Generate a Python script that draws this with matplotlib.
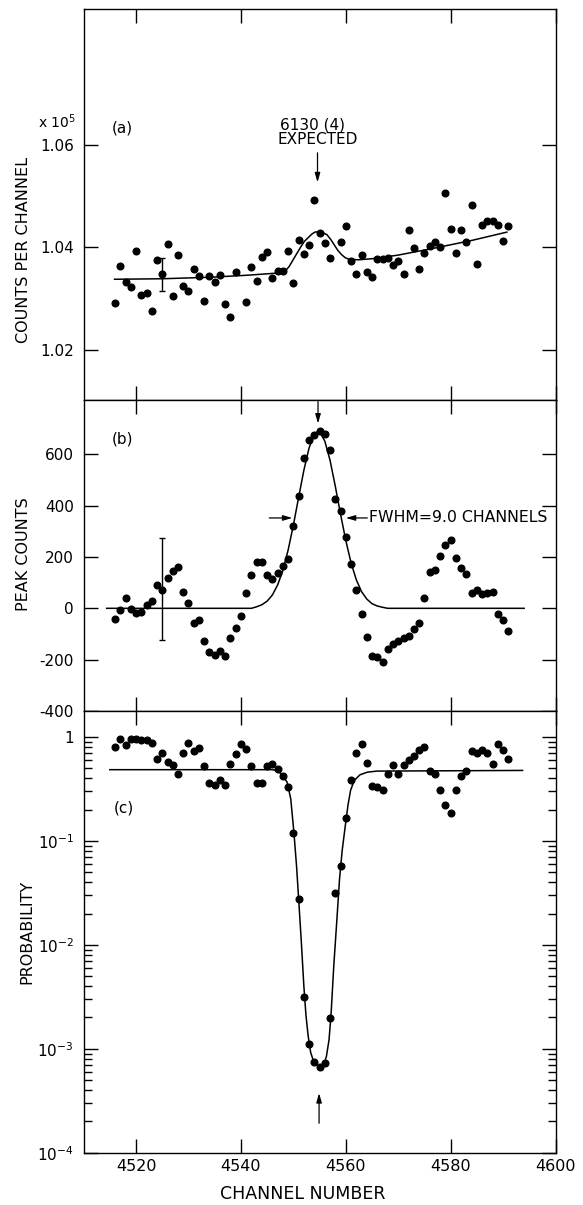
import matplotlib
matplotlib.use('Agg')
import matplotlib.pyplot as plt
from matplotlib.ticker import FixedLocator, FixedFormatter, NullFormatter, LogLocator

plt.rcParams['font.family'] = ['DejaVu Sans']
plt.rcParams['axes.unicode_minus'] = False
plt.rcParams['mathtext.default'] = 'regular'

# ---------------- data ----------------
CHANNELS = list(range(4516, 4592))
MISSING_A = (4540, 4558)
CH_A = [c for c in CHANNELS if c not in MISSING_A]

# (a) counts per channel (x 10^5)
COUNTS_A = [1.0292, 1.0363, 1.0333, 1.0322, 1.0394, 1.0307, 1.0312, 1.0276, 1.0375, 1.0348,
            1.0406, 1.0305, 1.0385, 1.0325, 1.0316, 1.0359, 1.0345, 1.0295, 1.0345, 1.0333,
            1.0347, 1.0289, 1.0265, 1.0352,
            1.0294, 1.0362, 1.0335, 1.0382, 1.0392, 1.0341, 1.0355, 1.0355, 1.0393, 1.0331,
            1.0414, 1.0388, 1.0404, 1.0493, 1.0429, 1.0408, 1.0379,
            1.0410, 1.0442, 1.0373, 1.0348, 1.0386, 1.0353, 1.0342, 1.0377, 1.0377, 1.0380,
            1.0365, 1.0374, 1.0348, 1.0435, 1.0399, 1.0358, 1.0389, 1.0403, 1.0411, 1.0400,
            1.0506, 1.0437, 1.0390, 1.0435, 1.0410, 1.0482, 1.0367, 1.0444, 1.0452, 1.0451,
            1.0444, 1.0412, 1.0442]
FIT_A_CH = [4515.9, 4525.0, 4534.3, 4541.4, 4548.2, 4549.2, 4550.7, 4551.4, 4552.1, 4553.5,
            4554.1, 4554.8, 4555.6, 4556.4, 4557.1, 4557.8, 4558.5, 4559.2, 4559.9, 4560.6,
            4562.4, 4564.9, 4569.9, 4577.0, 4584.1, 4590.7]
FIT_A = [1.0338, 1.0339, 1.0342, 1.0346, 1.0351, 1.0363, 1.0389, 1.0401, 1.0412, 1.0426,
         1.0430, 1.0431, 1.0429, 1.0425, 1.0416, 1.0405, 1.0394, 1.0386, 1.0380, 1.0377,
         1.0376, 1.0378, 1.0385, 1.0399, 1.0414, 1.0430]
ERR_A_CH = 4525
ERR_A_VAL = 1.0347
ERR_A = 0.0032

# (b) peak counts
PEAK_B = [-43, -7, 39, -4, -17, -13, 13, 29, 89, 72,
          117, 146, 160, 65, 20, -59, -46, -128, -172, -182,
          -165, -186, -117, -78, -29, 59, 129, 181, 180, 129,
          115, 138, 163, 191, 319, 439, 587, 655, 674, 690,
          680, 618, 427, 380, 279, 172, 72, -23, -111, -185,
          -189, -208, -160, -139, -126, -117, -108, -82, -59, 39,
          143, 150, 202, 246, 267, 195, 159, 134, 61, 72,
          56, 61, 64, -22, -46, -89]
FIT_B_CH = [4514.4, 4542.0, 4543, 4544, 4545, 4546, 4547, 4548, 4549, 4550, 4551, 4552,
            4553, 4554, 4554.7, 4555, 4556, 4557, 4558, 4559, 4560, 4561, 4562, 4563,
            4564, 4565, 4566, 4567, 4568, 4594.0]
FIT_B = [0, 0, 6, 14, 28, 52, 91, 148, 227, 324, 432, 538,
         625, 679, 690, 688, 651, 576, 475, 366, 264, 177, 111, 65,
         36, 18, 9, 4, 0, 0]
ERR_B_CH = 4525
ERR_B_VAL = 74
ERR_B = 198

# (c) probability
PROB_C = [0.81, 0.95, 0.83, 0.95, 0.95, 0.94, 0.935, 0.875, 0.618, 0.706,
          0.574, 0.541, 0.436, 0.706, 0.88, 0.733, 0.783, 0.521, 0.362, 0.347,
          0.388, 0.347, 0.553, 0.69, 0.862, 0.76, 0.521, 0.36, 0.36, 0.521,
          0.553, 0.494, 0.426, 0.329, 0.118, 0.0279, 0.00313, 0.00111, 0.000745, 0.000667,
          0.000728, 0.00198, 0.0319, 0.0577, 0.168, 0.388, 0.70, 0.862, 0.561, 0.341,
          0.329, 0.306, 0.436, 0.533, 0.443, 0.541, 0.595, 0.656, 0.743, 0.81,
          0.47, 0.443, 0.306, 0.222, 0.185, 0.306, 0.42, 0.466, 0.727, 0.706,
          0.743, 0.706, 0.553, 0.862, 0.743, 0.608]
FIT_C_CH = [4515.0, 4546.0, 4546.7, 4547.7, 4548.8, 4549.5, 4550.1, 4550.6, 4551.0, 4551.5,
            4552.0, 4552.4, 4552.8, 4553.3, 4554.0, 4555.0, 4555.8, 4556.3, 4556.8, 4557.2,
            4557.7, 4558.3, 4558.8, 4559.3, 4559.9, 4560.4, 4560.9, 4561.6, 4562.7, 4564.1,
            4565.9, 4593.7]
FIT_C = [0.485, 0.485, 0.477, 0.443, 0.368, 0.254, 0.121, 0.0577, 0.0279, 0.0110,
         0.0040, 0.00210, 0.00135, 0.00092, 0.00072, 0.000667, 0.000705, 0.000845, 0.00122, 0.00221,
         0.00625, 0.0176, 0.0429, 0.0805, 0.140, 0.219, 0.306, 0.382, 0.433, 0.459,
         0.470, 0.477]

X_TICKS = [4520, 4540, 4560, 4580, 4600]
A_TICKS = [1.02, 1.04, 1.06]
B_TICKS = [-400, -200, 0, 200, 400, 600]
C_TICKS = [1e-4, 1e-3, 1e-2, 1e-1, 1]
C_TICK_LABELS = ['$10^{-4}$', '$10^{-3}$', '$10^{-2}$', '$10^{-1}$', '1']

# ---------------- figure ----------------
W, H = 583, 1205
fig = plt.figure(figsize=(W / 100, H / 100), dpi=100)
L = 83.6 / W
AW = 472 / W
axA = fig.add_axes([L, 1 - 400 / H, AW, 391 / H])
axB = fig.add_axes([L, 1 - 711 / H, AW, 311 / H])
axC = fig.add_axes([L, 1 - 1152.7 / H, AW, 441.7 / H])

for ax in (axA, axB, axC):
    ax.set_xlim(4510, 4600)
    ax.xaxis.set_major_locator(FixedLocator(X_TICKS))
    ax.tick_params(which='both', direction='in', top=True, right=True, width=1.0)
    ax.tick_params(which='major', length=10, labelsize=11, pad=7)
    ax.tick_params(axis='x', which='major', pad=4.5, labelsize=11.5)
    ax.tick_params(which='minor', length=6)
    for s in ax.spines.values():
        s.set_linewidth(1.0)

mk = dict(marker='o', ls='none', color='black', ms=4.8, mec='black')
curve = dict(color='black', lw=1.1)
arrow = dict(arrowstyle='-|>,head_length=0.55,head_width=0.16', color='black', lw=0.9,
             shrinkA=0, shrinkB=0, mutation_scale=10)

# ---- (a)
axA.plot(FIT_A_CH, FIT_A, **curve)
axA.plot(CH_A, COUNTS_A, **mk)
axA.errorbar([ERR_A_CH], [ERR_A_VAL], yerr=[ERR_A], fmt='none', ecolor='black',
             elinewidth=1.0, capsize=2.3, capthick=1.0)
axA.set_ylim(1.01024, 1.08654)
axA.yaxis.set_major_locator(FixedLocator(A_TICKS))
axA.yaxis.set_major_formatter(FixedFormatter(['1.02', '1.04', '1.06']))
axA.xaxis.set_major_formatter(NullFormatter())
axA.set_ylabel('COUNTS PER CHANNEL', fontsize=11.5, va='center')
axA.yaxis.set_label_coords((23 - 83.6) / 472, 1 - (250 - 9) / 391)
axA.text((57 - 83.6) / 472, 1 - (122 - 9) / 391, r'x $10^{5}$', transform=axA.transAxes,
         ha='center', va='center', fontsize=10)
axA.text((122 - 83.6) / 472, 1 - (128 - 9) / 391, '(a)', transform=axA.transAxes,
         ha='center', va='center', fontsize=11)
axA.text(4553.6, 1.06382, '6130 (4)', ha='center', va='center', fontsize=11)
axA.text(4554.7, 1.06108, 'EXPECTED', ha='center', va='center', fontsize=11)
axA.annotate('', xy=(4554.6, 1.05272), xytext=(4554.6, 1.05847), arrowprops=arrow)

# ---- (b)
axB.plot(FIT_B_CH, FIT_B, **curve)
axB.plot(CHANNELS, PEAK_B, **mk)
axB.errorbar([ERR_B_CH], [ERR_B_VAL], yerr=[ERR_B], fmt='none', ecolor='black',
             elinewidth=1.0, capsize=2.3, capthick=1.0)
axB.set_ylim(-400, 811.5)
axB.yaxis.set_major_locator(FixedLocator(B_TICKS))
axB.xaxis.set_major_formatter(NullFormatter())
axB.set_ylabel('PEAK COUNTS', fontsize=11.5, va='center')
axB.yaxis.set_label_coords((23 - 83.6) / 472, 1 - (554 - 400) / 311)
axB.text((122.7 - 83.6) / 472, 1 - (439 - 400) / 311, '(b)', transform=axB.transAxes,
         ha='center', va='center', fontsize=11)
axB.annotate('', xy=(4554.7, 720), xytext=(4554.7, 805), arrowprops=arrow)
axB.annotate('', xy=(4549.8, 352), xytext=(4545.4, 352), arrowprops=arrow)
axB.annotate('', xy=(4560.0, 352), xytext=(4564.1, 352), arrowprops=arrow)
axB.text(4564.4, 352, 'FWHM=9.0 CHANNELS', ha='left', va='center', fontsize=11.3)

# ---- (c)
axC.set_yscale('log')
axC.plot(FIT_C_CH, FIT_C, **curve)
axC.plot(CHANNELS, PROB_C, **mk)
axC.set_ylim(1e-4, 1.78)
axC.yaxis.set_major_locator(FixedLocator(C_TICKS))
axC.yaxis.set_major_formatter(FixedFormatter(C_TICK_LABELS))
axC.yaxis.set_minor_locator(LogLocator(base=10, subs=[2, 3, 4, 5, 6, 7, 8, 9]))
axC.yaxis.set_minor_formatter(NullFormatter())
axC.set_xticks(X_TICKS)
axC.set_xticklabels([str(t) for t in X_TICKS])
axC.set_ylabel('PROBABILITY', fontsize=11.5, va='center')
axC.yaxis.set_label_coords((27 - 83.6) / 472, 1 - (932 - 711) / 441.7)
axC.set_xlabel('CHANNEL NUMBER', fontsize=12.5, va='center')
axC.xaxis.set_label_coords((303 - 83.6) / 472, -(1194 - 1152.7) / 441.7)
axC.text((124 - 83.6) / 472, 1 - (808 - 711) / 441.7, '(c)', transform=axC.transAxes,
         ha='center', va='center', fontsize=11)
axC.annotate('', xy=(4554.9, 3.74e-4), xytext=(4554.9, 1.92e-4), arrowprops=arrow)

fig.savefig('out.png', dpi=100)
